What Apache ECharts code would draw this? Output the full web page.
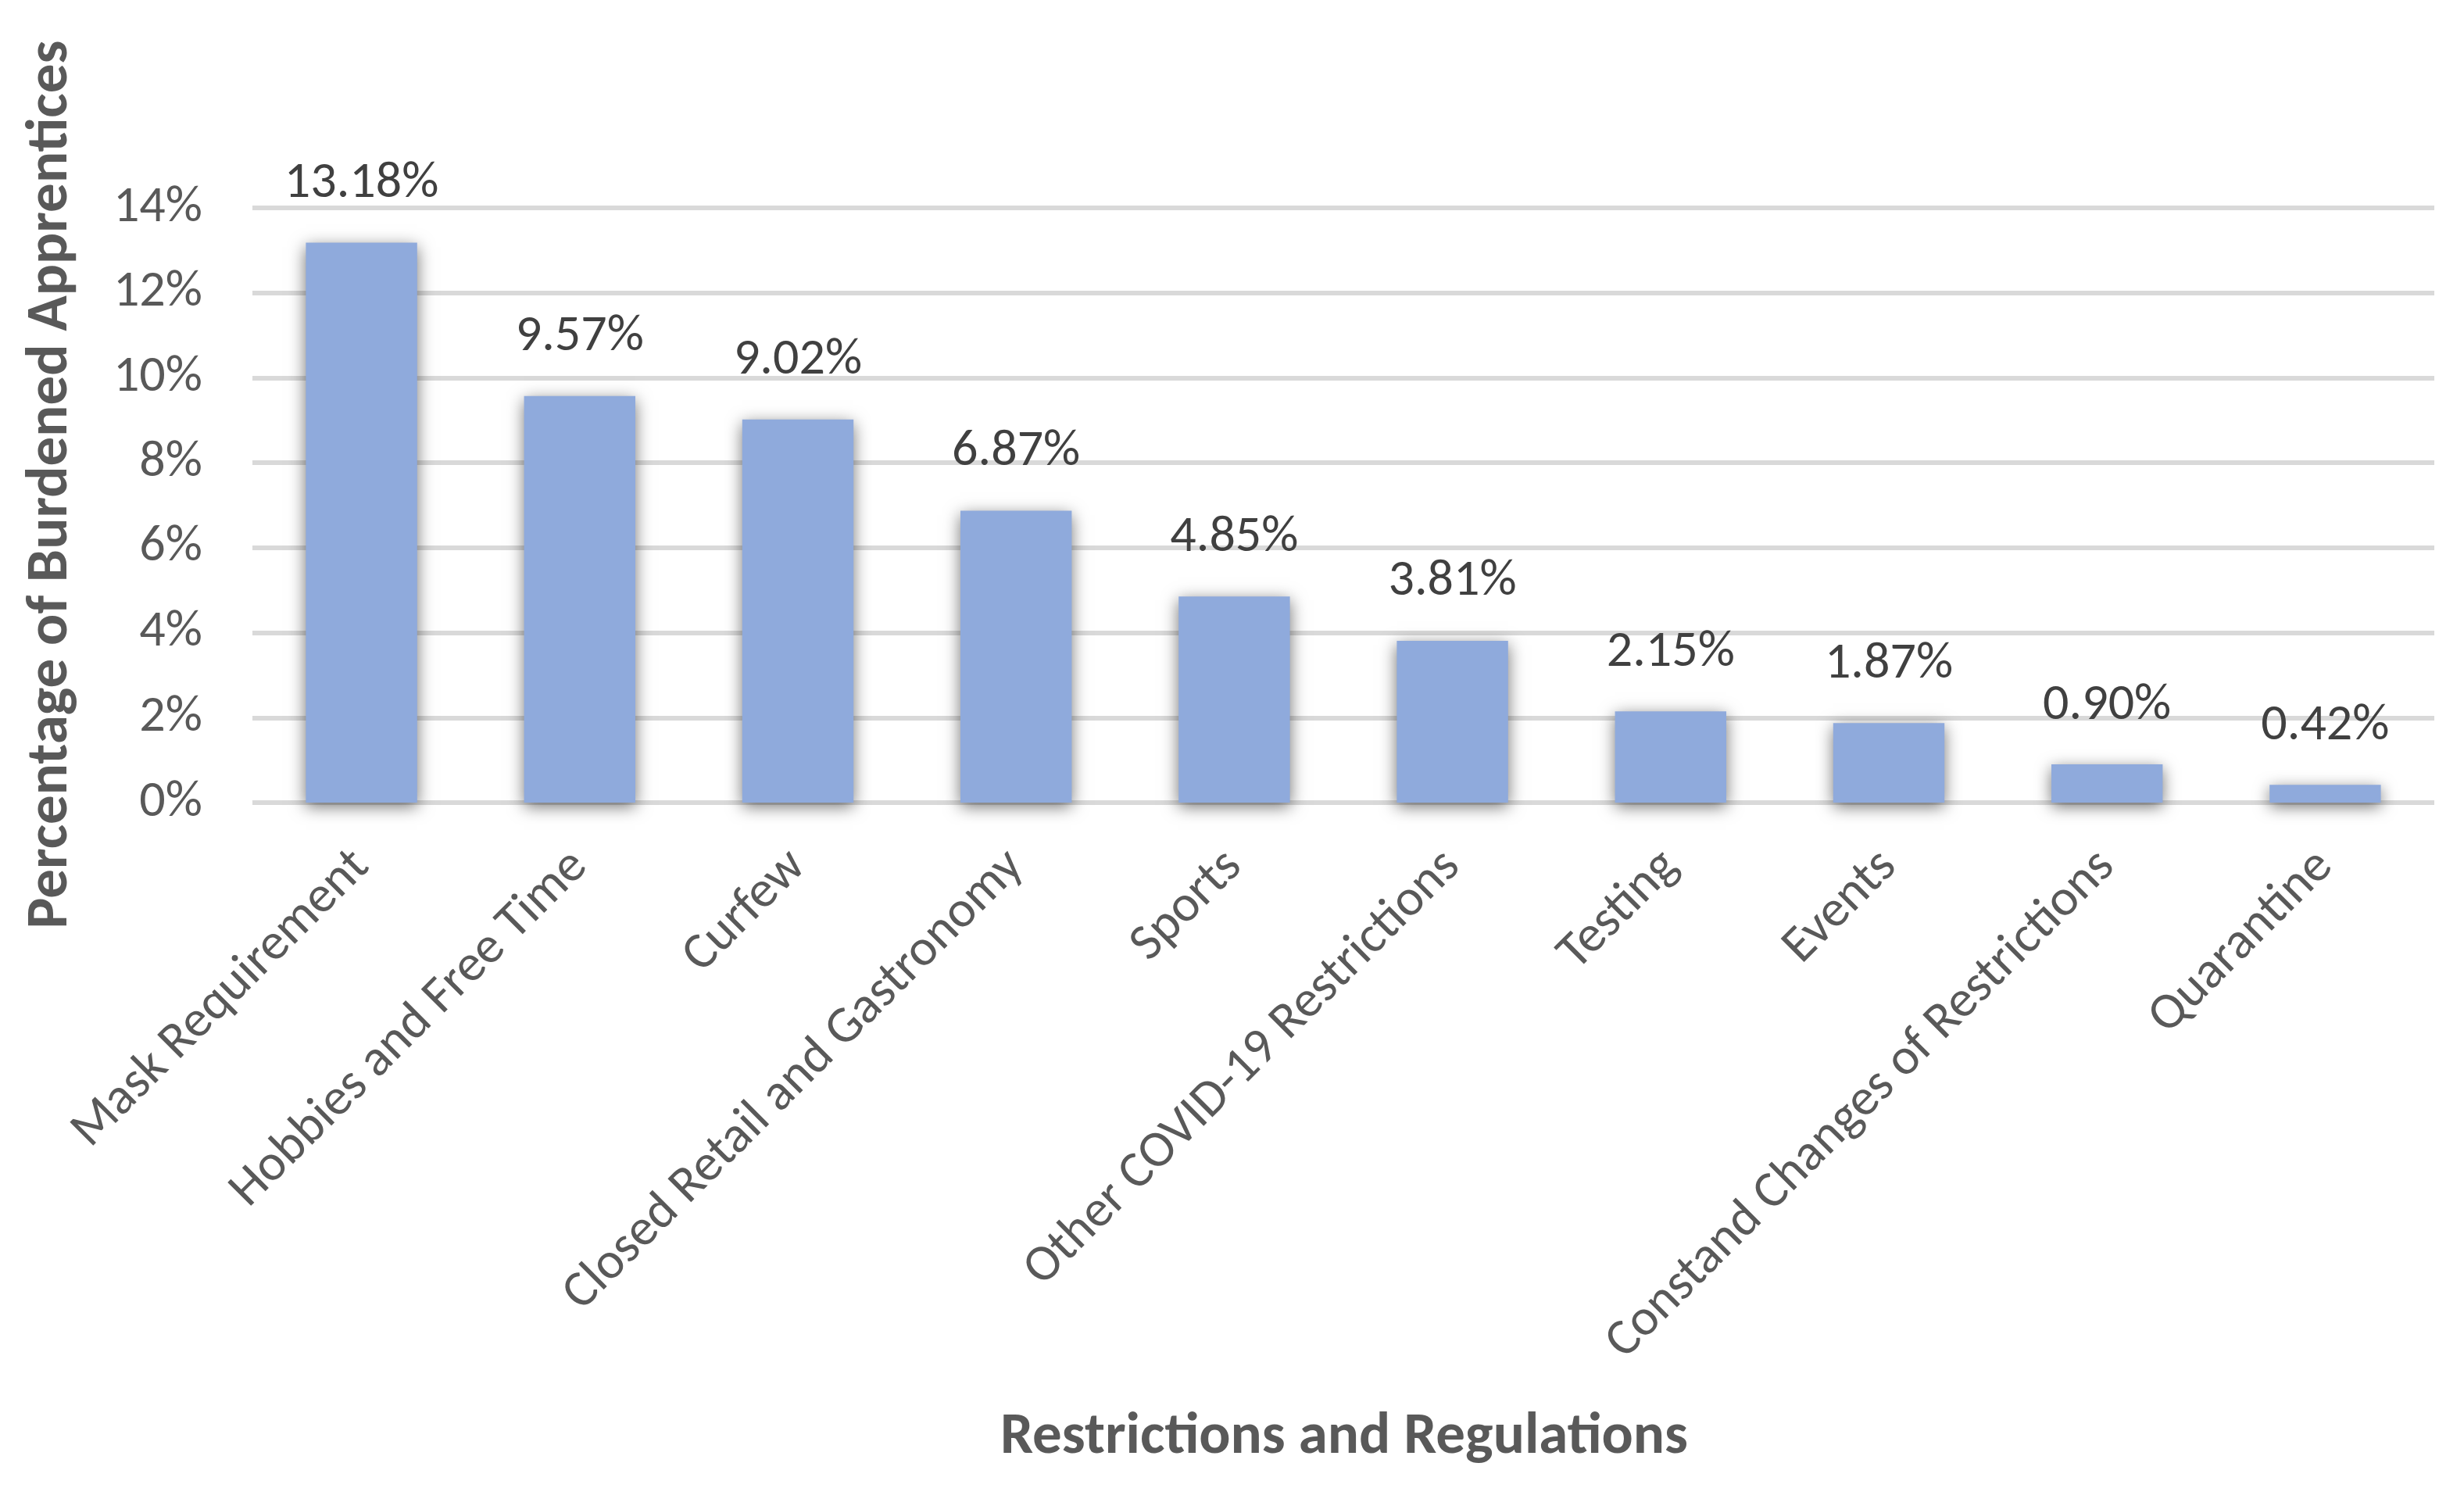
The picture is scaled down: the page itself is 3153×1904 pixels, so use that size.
<!DOCTYPE html>
<html>
<head>
<meta charset="utf-8">
<script src="https://cdn.jsdelivr.net/npm/echarts@6/dist/echarts.min.js"></script>
<style>html,body{margin:0;padding:0;background:#fff}#c{width:3153px;height:1904px}</style>
</head>
<body>
<div id="c"></div>
<script>
const categories = ["Mask Requirement", "Hobbies and Free Time", "Curfew", "Closed Retail and Gastronomy", "Sports", "Other COVID-19 Restrictions", "Testing", "Events", "Constand Changes of Restrictions", "Quarantine"];
const values = [13.18, 9.57, 9.02, 6.87, 4.85, 3.81, 2.15, 1.87, 0.90, 0.42];
const yTicks = { min: 0, max: 14, interval: 2 };
const xTitle = "Restrictions and Regulations";
const yTitle = "Percentage of Burdened Apprentices";

const FONT = "Carlito, Calibri, Lato, sans-serif";
const chart = echarts.init(document.getElementById('c'), null, { renderer: 'canvas' });
chart.setOption({
  animation: false,
  backgroundColor: '#ffffff',
  grid: { left: 323, right: 38, top: 266, bottom: 877, containLabel: false },
  xAxis: {
    type: 'category',
    data: categories,
    axisLine: { show: false },
    axisTick: { show: false },
    axisLabel: { rotate: 45, interval: 0, margin: 72, color: '#595959', fontSize: 66, fontFamily: FONT }
  },
  yAxis: {
    type: 'value',
    min: yTicks.min, max: yTicks.max, interval: yTicks.interval,
    axisLine: { show: false },
    axisTick: { show: false },
    splitLine: { lineStyle: { color: '#d9d9d9', width: 6 } },
    axisLabel: { formatter: '{value}%', margin: 64, color: '#595959', fontSize: 66, fontFamily: FONT }
  },
  series: [{
    type: 'bar',
    data: values,
    barWidth: '51%',
    itemStyle: { color: '#8faadc', shadowBlur: 20, shadowColor: 'rgba(0,0,0,0.55)', shadowOffsetY: 5 },
    label: {
      show: true, position: 'top', distance: 42,
      formatter: p => p.value.toFixed(2) + '%',
      color: '#404040', fontSize: 66, fontFamily: FONT
    }
  }],
  graphic: [
    { type: 'text', x: 66, y: 620, rotation: Math.PI / 2,
      style: { text: yTitle, fill: '#595959', fontSize: 75, fontWeight: 'bold', fontFamily: FONT, align: 'center', verticalAlign: 'middle' } },
    { type: 'text', x: 1720, y: 1840,
      style: { text: xTitle, fill: '#595959', fontSize: 75, fontWeight: 'bold', fontFamily: FONT, align: 'center', verticalAlign: 'middle' } }
  ]
});
</script>
</body>
</html>
